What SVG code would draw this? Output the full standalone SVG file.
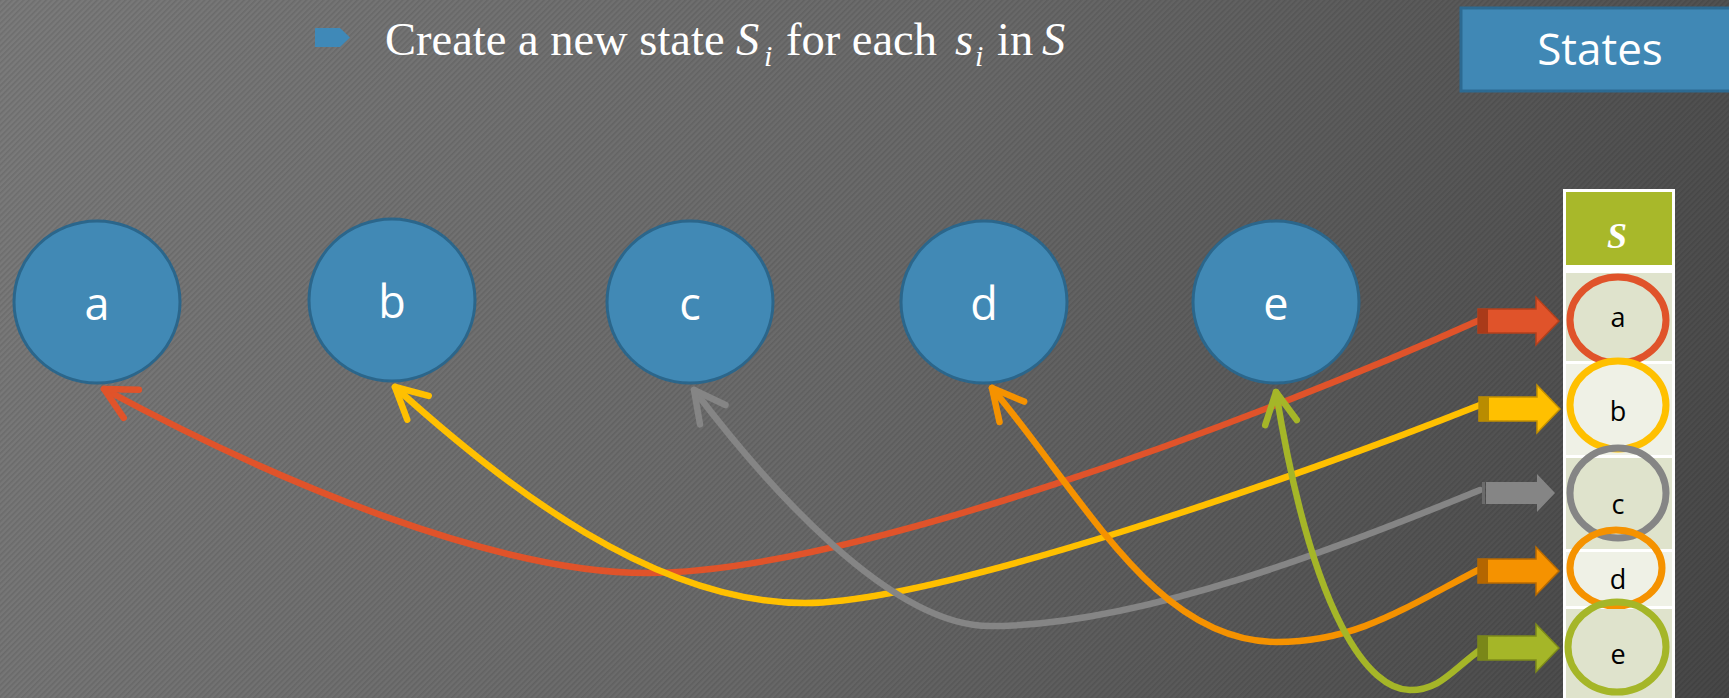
<svg xmlns="http://www.w3.org/2000/svg" width="1729" height="698" viewBox="0 0 1729 698">
  <style>
    .node { fill: #4189b5; stroke: #2b668b; stroke-width: 3; }
    .nlabel { font-family: "Open Sans", "DejaVu Sans", sans-serif; font-size: 45px; fill: #ffffff; text-anchor: middle; }
    .title { font-family: "Liberation Serif", "Times New Roman", serif; font-size: 46.5px; fill: #ffffff; }
    .it { font-style: italic; }
    .sub { font-style: italic; font-size: 30px; }
    .tlabel { font-family: "Open Sans", "DejaVu Sans", sans-serif; font-size: 27px; fill: #000000; text-anchor: middle; }
    .conn { fill: none; stroke-width: 6.5; stroke-linecap: round; }
    .ring { stroke-width: 7; }
    .rowA { fill: #dfe3cc; }
    .rowB { fill: #eff1e6; }
  </style>
  <defs>
    <linearGradient id="bg" gradientUnits="userSpaceOnUse" x1="0" y1="0" x2="1729" y2="698">
      <stop offset="0" stop-color="#7b7b7b"/>
      <stop offset="0.5" stop-color="#696969"/>
      <stop offset="1" stop-color="#474747"/>
    </linearGradient>
    <pattern id="hatch" width="4" height="4" patternUnits="userSpaceOnUse" patternTransform="rotate(45)">
      <rect x="0" y="0" width="1.6" height="4" fill="#000000" fill-opacity="0.10"/>
    </pattern>
    <marker id="mk-red" markerUnits="userSpaceOnUse" viewBox="-45 -25 55 50" markerWidth="55" markerHeight="50" refX="0" refY="0" orient="auto">
      <path d="M-31,-16 L0,0 L-31,16" fill="none" stroke="#e0532a" stroke-width="6.5" stroke-linecap="round" stroke-linejoin="round"/>
    </marker>
    <marker id="mk-yellow" markerUnits="userSpaceOnUse" viewBox="-45 -25 55 50" markerWidth="55" markerHeight="50" refX="0" refY="0" orient="auto">
      <path d="M-31,-16 L0,0 L-31,16" fill="none" stroke="#ffc000" stroke-width="6.5" stroke-linecap="round" stroke-linejoin="round"/>
    </marker>
    <marker id="mk-gray" markerUnits="userSpaceOnUse" viewBox="-45 -25 55 50" markerWidth="55" markerHeight="50" refX="0" refY="0" orient="auto">
      <path d="M-31,-16 L0,0 L-31,16" fill="none" stroke="#858585" stroke-width="6.5" stroke-linecap="round" stroke-linejoin="round"/>
    </marker>
    <marker id="mk-orange" markerUnits="userSpaceOnUse" viewBox="-45 -25 55 50" markerWidth="55" markerHeight="50" refX="0" refY="0" orient="auto">
      <path d="M-31,-16 L0,0 L-31,16" fill="none" stroke="#f59200" stroke-width="6.5" stroke-linecap="round" stroke-linejoin="round"/>
    </marker>
    <marker id="mk-green" markerUnits="userSpaceOnUse" viewBox="-45 -25 55 50" markerWidth="55" markerHeight="50" refX="0" refY="0" orient="auto">
      <path d="M-31,-16 L0,0 L-31,16" fill="none" stroke="#a5b628" stroke-width="6.5" stroke-linecap="round" stroke-linejoin="round"/>
    </marker>
  </defs>

  <!-- background -->
  <rect x="0" y="0" width="1729" height="698" fill="url(#bg)"/>
  <rect x="0" y="0" width="1729" height="698" fill="url(#hatch)"/>

  <!-- title -->
  <g id="title">
    <path d="M315,28 H340 L350,37.5 L340,47 H315 Z" fill="#3f89b8"/>
    <text class="title" y="55"><tspan x="385">Create a new state</tspan><tspan x="736" class="it">S</tspan><tspan x="764" y="66" class="sub">i</tspan><tspan x="786" y="55">for each</tspan><tspan x="955" class="it">s</tspan><tspan x="975" y="66" class="sub">i</tspan><tspan x="997" y="55">in</tspan><tspan x="1042" class="it">S</tspan></text>
  </g>

  <!-- States label box -->
  <g id="states-box">
    <rect x="1461" y="8" width="275" height="83" fill="#4088b5" stroke="#2c6a92" stroke-width="3"/>
    <text x="1600" y="65" font-family="'Open Sans', 'DejaVu Sans', sans-serif" font-size="44" fill="#ffffff" text-anchor="middle">States</text>
  </g>

  <!-- nodes -->
  <g id="node-a">
    <ellipse class="node" cx="97" cy="302" rx="83" ry="81"/>
    <text class="nlabel" x="97" y="320">a</text>
  </g>
  <g id="node-b">
    <ellipse class="node" cx="392" cy="300" rx="83" ry="81"/>
    <text class="nlabel" x="392" y="318">b</text>
  </g>
  <g id="node-c">
    <ellipse class="node" cx="690" cy="302" rx="83" ry="81"/>
    <text class="nlabel" x="690" y="320">c</text>
  </g>
  <g id="node-d">
    <ellipse class="node" cx="984" cy="302" rx="83" ry="81"/>
    <text class="nlabel" x="984" y="320">d</text>
  </g>
  <g id="node-e">
    <ellipse class="node" cx="1276" cy="302" rx="83" ry="81"/>
    <text class="nlabel" x="1276" y="320">e</text>
  </g>

  <!-- table S -->
  <g id="table-s">
    <rect x="1563" y="189" width="112" height="520" fill="#ffffff"/>
    <rect x="1566" y="192" width="106" height="73" fill="#a8b82a"/>
    <text x="1617" y="248" font-family="'Liberation Serif', 'Times New Roman', serif" font-size="36" font-style="italic" font-weight="bold" fill="#ffffff" text-anchor="middle">S</text>
  </g>
  <g id="row-a">
    <rect class="rowA" x="1566" y="273" width="106" height="88"/>
    <ellipse class="ring" cx="1618" cy="320" rx="48" ry="43" fill="none" stroke="#e0532a"/>
    <text class="tlabel" x="1618" y="327">a</text>
  </g>
  <g id="row-b">
    <rect class="rowB" x="1566" y="364" width="106" height="91"/>
    <ellipse class="ring" cx="1618" cy="405" rx="48" ry="44" fill="none" stroke="#ffc000"/>
    <text class="tlabel" x="1618" y="421">b</text>
  </g>
  <g id="row-c">
    <rect class="rowA" x="1566" y="458" width="106" height="91"/>
    <ellipse class="ring" cx="1618" cy="493" rx="48" ry="45" fill="none" stroke="#858585"/>
    <text class="tlabel" x="1618" y="514">c</text>
  </g>
  <g id="row-d">
    <rect class="rowB" x="1566" y="552" width="106" height="54"/>
    <ellipse class="ring" cx="1616" cy="568" rx="46" ry="38" fill="none" stroke="#f59200"/>
    <text class="tlabel" x="1618" y="589">d</text>
  </g>
  <g id="row-e">
    <rect class="rowA" x="1566" y="609" width="106" height="100"/>
    <ellipse class="ring" cx="1617" cy="647" rx="49" ry="45" fill="none" stroke="#a5b628"/>
    <text class="tlabel" x="1618" y="664">e</text>
  </g>

  <!-- connectors -->
  <g id="connectors">
    <path class="conn" stroke="#e0532a" marker-end="url(#mk-red)" d="M1482,319 C1254,421.5 847,573 647,573 C497,573 280,484 104,389"/>
    <path class="conn" stroke="#ffc000" marker-end="url(#mk-yellow)" d="M1480,405 C1294,479 935,603 805,603 C655,603 506,487.5 395,387"/>
    <path class="conn" stroke="#858585" marker-end="url(#mk-gray)" d="M1480,490 C1341,547 1140,626 990,626 C890,626 766.6,485.5 694,390"/>
    <path class="conn" stroke="#f59200" marker-end="url(#mk-orange)" d="M1482,568 C1406,607 1357,642 1277,642 C1157,642 1088,503.5 992,388"/>
    <path class="conn" stroke="#a5b628" marker-end="url(#mk-green)" d="M1480,650 C1451,671 1440,690 1410,690 C1370,690 1313,620 1276,392"/>
  </g>

  <!-- block arrows -->
  <g id="block-arrows" stroke-width="1.5" stroke-linejoin="miter">
    <path d="M1478,309 H1536 V297 L1559,321 L1536,345 V333 H1478 Z" fill="#e0532a" stroke="#b3401c"/>
    <rect x="1478" y="309" width="10" height="24" fill="#a93a19"/>
    <path d="M1479,397 H1537 V385 L1560,409 L1537,433 V421 H1479 Z" fill="#ffc000" stroke="#c39000"/>
    <rect x="1479" y="397" width="10" height="24" fill="#b98c00"/>
    <path d="M1486,482 H1537 V474 L1555,493 L1537,512 V504 H1486 Z" fill="#858585"/>
    <rect x="1482" y="482" width="3" height="22" fill="#6b6b6b"/>
    <path d="M1478,559 H1536 V547 L1559,571 L1536,595 V583 H1478 Z" fill="#f59200" stroke="#b86a00"/>
    <rect x="1478" y="559" width="10" height="24" fill="#b46600"/>
    <path d="M1478,636 H1536 V624 L1559,648 L1536,672 V660 H1478 Z" fill="#a5b628" stroke="#7d8a1a"/>
    <rect x="1478" y="636" width="10" height="24" fill="#7a8718"/>
  </g>
</svg>
